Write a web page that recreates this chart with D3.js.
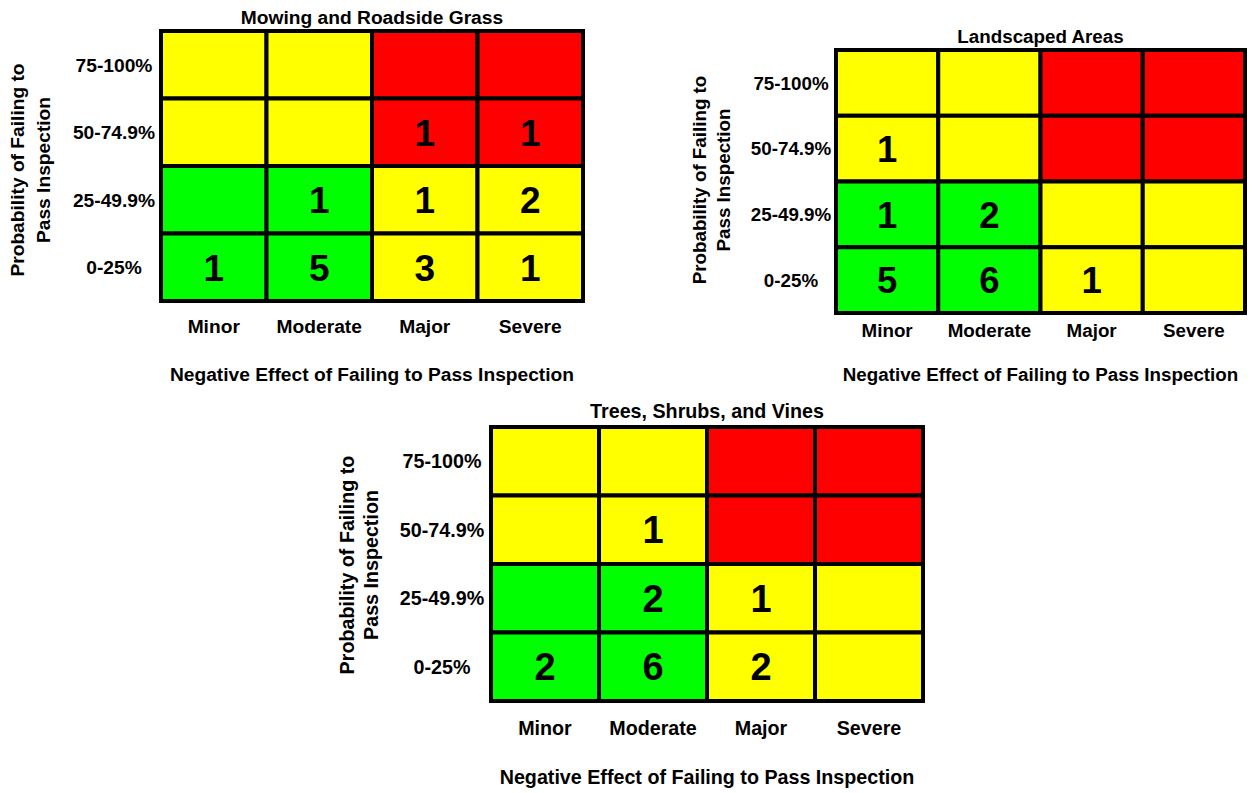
<!DOCTYPE html>
<html>
<head>
<meta charset="utf-8">
<script src="https://cdn.jsdelivr.net/npm/d3@7"></script>
<style>
  html, body { margin: 0; padding: 0; background: #fff; }
  svg { display: block; }
  text { font-family: "Liberation Sans", Arial, sans-serif; font-weight: bold; fill: #000; }
</style>
</head>
<body>
<svg id="chart" width="1252" height="793"></svg>
<script>
// ---------- DATA ----------
const effectCategories = ["Minor", "Moderate", "Major", "Severe"];
const probabilityCategories = ["75-100%", "50-74.9%", "25-49.9%", "0-25%"];
const xAxisTitle = "Negative Effect of Failing to Pass Inspection";
const yAxisTitleLines = ["Probability of Failing to", "Pass Inspection"];
const chartTitles = ["Mowing and Roadside Grass", "Landscaped Areas", "Trees, Shrubs, and Vines"];

// risk level per cell (rows top→bottom, cols left→right)
const riskLevels = [
  ["medium", "medium", "high", "high"],
  ["medium", "medium", "high", "high"],
  ["low", "low", "medium", "medium"],
  ["low", "low", "medium", "medium"]
];

// counts per cell (null = empty)
const mowingCounts = [
  [null, null, null, null],
  [null, null, 1, 1],
  [null, 1, 1, 2],
  [1, 5, 3, 1]
];
const landscapedCounts = [
  [null, null, null, null],
  [1, null, null, null],
  [1, 2, null, null],
  [5, 6, 1, null]
];
const treesCounts = [
  [null, null, null, null],
  [null, 1, null, null],
  [null, 2, 1, null],
  [2, 6, 2, null]
];

// ---------- LAYOUT ----------
const layouts = [
  { box: [159, 29, 585, 303], fs: 19.2, nfs: 37, titleY: 17, rowLabelX: 114, colLabelY: 326, xTitleY: 374, yTitleX: [24, 50], yTitleCY: 170, counts: mowingCounts },
  { box: [834, 48, 1247, 315], fs: 18.8, nfs: 36.5, titleY: 36, rowLabelX: 791, colLabelY: 330, xTitleY: 374, yTitleX: [706, 730], yTitleCY: 180, counts: landscapedCounts },
  { box: [489, 425, 925, 703], fs: 19.7, nfs: 38, titleY: 411, rowLabelX: 442, colLabelY: 728, xTitleY: 777, yTitleX: [354, 378], yTitleCY: 565, counts: treesCounts }
];

const colorScale = d3.scaleOrdinal()
  .domain(["low", "medium", "high"])
  .range(["#00FF00", "#FFFF00", "#FF0000"]);

const svg = d3.select("#chart");
const SW = 4;

layouts.forEach((L, i) => {
  const [x0, y0, x1, y1] = L.box;
  const fs = L.fs;
  const off = fs * 0.36;
  const g = svg.append("g");
  const x = d3.scaleBand().domain(effectCategories).range([x0 + SW / 2, x1 - SW / 2]);
  const y = d3.scaleBand().domain(probabilityCategories).range([y0 + SW / 2, y1 - SW / 2]);

  const cells = [];
  probabilityCategories.forEach((p, r) => {
    effectCategories.forEach((e, c) => {
      cells.push({ p, e, risk: riskLevels[r][c], count: L.counts[r][c] });
    });
  });

  g.selectAll("rect.cell").data(cells).join("rect")
    .attr("class", "cell")
    .attr("x", d => x(d.e))
    .attr("y", d => y(d.p))
    .attr("width", x.bandwidth())
    .attr("height", y.bandwidth())
    .attr("fill", d => colorScale(d.risk))
    .attr("stroke", "#000")
    .attr("stroke-width", SW);

  g.selectAll("text.count").data(cells.filter(d => d.count !== null)).join("text")
    .attr("class", "count")
    .attr("x", d => x(d.e) + x.bandwidth() / 2)
    .attr("y", d => y(d.p) + y.bandwidth() / 2 + L.nfs * 0.36)
    .attr("text-anchor", "middle")
    .style("font-size", L.nfs + "px")
    .text(d => d.count);

  // title
  g.append("text")
    .attr("x", (x0 + x1) / 2)
    .attr("y", L.titleY + off)
    .attr("text-anchor", "middle")
    .style("font-size", fs + "px")
    .text(chartTitles[i]);

  // row labels
  g.selectAll("text.rowlab").data(probabilityCategories).join("text")
    .attr("class", "rowlab")
    .attr("x", L.rowLabelX)
    .attr("y", d => y(d) + y.bandwidth() / 2 + off)
    .attr("text-anchor", "middle")
    .style("font-size", fs + "px")
    .text(d => d);

  // column labels
  g.selectAll("text.collab").data(effectCategories).join("text")
    .attr("class", "collab")
    .attr("x", d => x(d) + x.bandwidth() / 2)
    .attr("y", L.colLabelY + off)
    .attr("text-anchor", "middle")
    .style("font-size", fs + "px")
    .text(d => d);

  // x axis title
  g.append("text")
    .attr("x", (x0 + x1) / 2)
    .attr("y", L.xTitleY + off)
    .attr("text-anchor", "middle")
    .style("font-size", fs + "px")
    .text(xAxisTitle);

  // y axis title (two lines, rotated)
  yAxisTitleLines.forEach((line, k) => {
    g.append("text")
      .attr("transform", `translate(${L.yTitleX[k]},${L.yTitleCY}) rotate(-90)`)
      .attr("text-anchor", "middle")
      .style("font-size", fs + "px")
      .text(line);
  });
});
</script>
</body>
</html>
